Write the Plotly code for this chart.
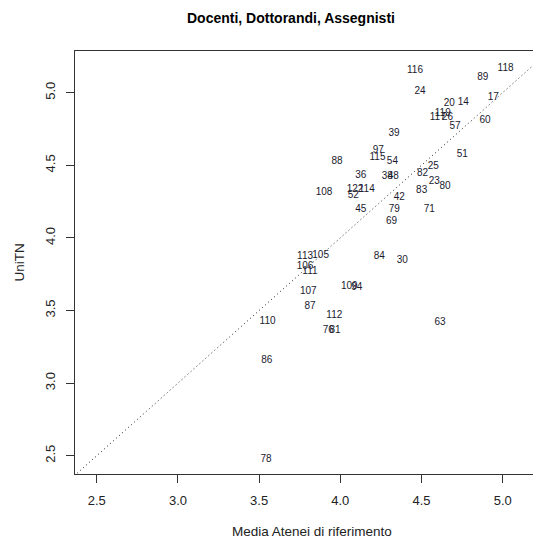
import plotly.graph_objects as go

# Row labels, x = Media Atenei di riferimento, y = UniTN
labels = ["116", "118", "89", "24", "20", "14", "17", "60", "57", "119", "117", "26",
          "39", "51", "97", "115", "54", "88", "25", "82", "36", "38", "48", "23", "80",
          "108", "122", "114", "52", "83", "42", "45", "79", "71", "69",
          "113", "105", "106", "111", "84", "30", "109", "94", "107", "87", "112",
          "110", "63", "76", "81", "86", "78"]
media_atenei = [4.460, 5.018, 4.877, 4.491, 4.671, 4.757, 4.942, 4.891, 4.706, 4.631, 4.600, 4.660,
                4.331, 4.751, 4.234, 4.229, 4.321, 3.980, 4.573, 4.507, 4.126, 4.289, 4.326, 4.579, 4.645,
                3.900, 4.091, 4.163, 4.080, 4.501, 4.363, 4.126, 4.333, 4.548, 4.316,
                3.783, 3.879, 3.783, 3.813, 4.240, 4.382, 4.055, 4.101, 3.803, 3.813, 3.963,
                3.552, 4.614, 3.926, 3.967, 3.547, 3.542]
unitn = [5.152, 5.168, 5.106, 5.007, 4.927, 4.931, 4.968, 4.807, 4.766, 4.858, 4.828, 4.828,
         4.720, 4.574, 4.600, 4.552, 4.528, 4.528, 4.495, 4.445, 4.433, 4.421, 4.421, 4.387, 4.357,
         4.314, 4.335, 4.335, 4.289, 4.323, 4.277, 4.197, 4.197, 4.197, 4.112,
         3.871, 3.882, 3.802, 3.767, 3.875, 3.843, 3.664, 3.660, 3.629, 3.526, 3.464,
         3.426, 3.419, 3.361, 3.361, 3.154, 2.477]
tick_vals = [2.5, 3.0, 3.5, 4.0, 4.5, 5.0]
tick_text = ["2.5", "3.0", "3.5", "4.0", "4.5", "5.0"]

x_range = [2.366, 5.236]
y_range = [2.374, 5.287]

FONT = "Liberation Sans, Arial, Helvetica, sans-serif"

fig = go.Figure()

# identity reference line (abline 0,1)
lo = min(x_range[0], y_range[0]) - 0.5
hi = max(x_range[1], y_range[1]) + 0.5
fig.add_trace(go.Scatter(x=[lo, hi], y=[lo, hi], mode="lines",
                         line=dict(color="#222222", width=1, dash="1px,3px"),
                         hoverinfo="skip", showlegend=False))

fig.add_trace(go.Scatter(x=media_atenei, y=unitn, mode="text", text=labels,
                         textposition="middle center",
                         textfont=dict(family=FONT, size=10, color="#1a1a2e"),
                         showlegend=False))

axis_common = dict(showgrid=False, zeroline=False, showline=True, mirror=True,
                   linecolor="#333333", linewidth=1, ticks="outside", ticklen=8,
                   tickcolor="#333333", tickwidth=1, tickvals=tick_vals, ticktext=tick_text,
                   tickfont=dict(family=FONT, size=13, color="#222222"))

# page body has an 8px margin; figure is sized/margined to compensate
fig.update_layout(
    width=533, height=531,
    margin=dict(l=67, r=0, t=43, b=65),
    paper_bgcolor="white", plot_bgcolor="white",
    xaxis=dict(range=x_range, ticklabelstandoff=6, **axis_common),
    yaxis=dict(range=y_range, tickangle=-90, ticklabelstandoff=6, **axis_common),
    annotations=[
        dict(text="<b>Docenti, Dottorandi, Assegnisti</b>", xref="paper", yref="paper",
             x=0.4635, y=1, xanchor="center", yanchor="middle", yshift=33, showarrow=False,
             font=dict(family=FONT, size=14, color="#000000")),
        dict(text="Media Atenei di riferimento", xref="paper", yref="paper",
             x=0.5, y=0, xanchor="center", yanchor="middle", xshift=4, yshift=-57.5,
             showarrow=False,
             font=dict(family=FONT, size=13.5, color="#222222")),
        dict(text="UniTN", xref="paper", yref="paper", x=0, y=0.5,
             xanchor="center", yanchor="middle", xshift=-56,
             textangle=-90, showarrow=False,
             font=dict(family=FONT, size=13.5, color="#222222")),
    ],
)

fig.write_html("out.html")
